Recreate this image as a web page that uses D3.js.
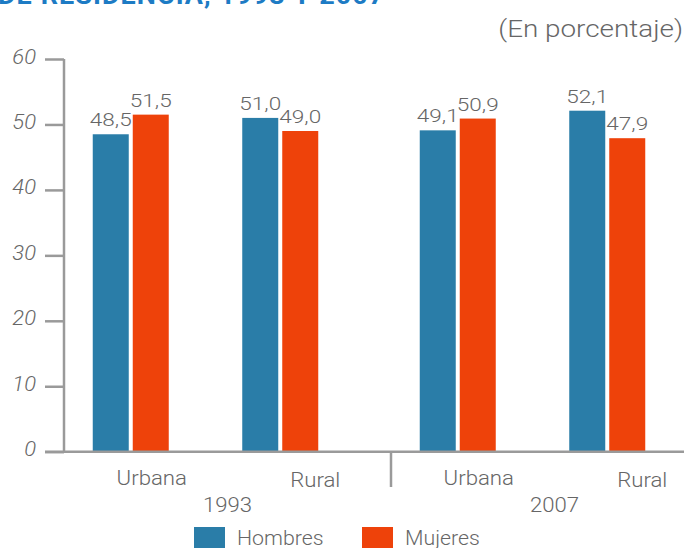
<!DOCTYPE html>
<html>
<head>
<meta charset="utf-8">
<script src="https://cdn.jsdelivr.net/npm/d3@7"></script>
<style>
  html, body { margin: 0; padding: 0; background: #fff; }
  svg { display: block; }
  text { font-family: Roboto, "Liberation Sans", sans-serif; font-weight: 300; fill: #666; }
</style>
</head>
<body>
<svg id="chart" width="684" height="548"></svg>
<script>
// data
var years = ["1993", "2007"];
var areas = ["Urbana", "Rural"];
var series = ["Hombres", "Mujeres"];
var hombres = [48.5, 51.0, 49.1, 52.1];
var mujeres = [51.5, 49.0, 50.9, 47.9];
var valueLabels = [["48,5", "51,5"], ["51,0", "49,0"], ["49,1", "50,9"], ["52,1", "47,9"]];
var yTicks = [0, 10, 20, 30, 40, 50, 60];

var COLORS = ["#2a7da8", "#ee420a"];
var AXIS = "#9a9a9a";

var svg = d3.select("#chart");

// text drawn a bit wider than the font, like the original artwork
function wideText(sel, x, y, sx) {
	return sel.attr("transform", "translate(" + x + "," + y + ") scale(" + sx + ",1)");
}

var rows = [];
years.forEach(function(yr, i) {
	areas.forEach(function(ar, j) {
		var k = i * areas.length + j;
		rows.push({ year: yr, area: ar, values: [hombres[k], mujeres[k]], labels: valueLabels[k] });
	});
});

// scales
var y = d3.scaleLinear().domain([0, 60]).range([451.7, 59]);
var x0 = d3.scaleBand().domain(years).range([64, 718]);
var xLabel = d3.scaleBand().domain(areas).range([6, 333]);
var xBarGroup = d3.scaleBand().domain(areas).range([-8, 291]);
var xBar = d3.scaleBand().domain(series).range([0, 76]).paddingInner(0.1);

// title (cut off at the top of the picture)
wideText(svg.append("text"), -2, 4, 1.08)
	.style("font-weight", "bold")
	.style("font-size", "25px")
	.style("fill", "#1d7bc4")
	.style("letter-spacing", "1px")
	.text("DE RESIDENCIA, 1993 Y 2007");

wideText(svg.append("text"), 683, 37, 1.16)
	.attr("text-anchor", "end")
	.style("font-size", "24px")
	.text("(En porcentaje)");

// y axis
var yAxis = d3.axisLeft(y).tickValues(yTicks).tickSize(19).tickPadding(9);
var gy = svg.append("g").attr("transform", "translate(64,0)").call(yAxis);
gy.select(".domain").attr("stroke", AXIS).attr("stroke-width", 2.5).attr("d", "M0," + y(60) + "V" + y(0));
gy.selectAll(".tick line").attr("stroke", AXIS).attr("stroke-width", 2.5);
gy.selectAll(".tick text")
	.attr("x", -28 / 1.1)
	.attr("transform", "scale(1.1,1)")
	.attr("dy", "0.2em")
	.attr("fill", "#666")
	.style("font-family", "Roboto, 'Liberation Sans', sans-serif")
	.style("font-size", "20px")
	.style("font-style", "italic")
	.style("font-weight", "300");

// bars
var groups = svg.selectAll("g.group")
	.data(rows)
	.enter().append("g")
	.attr("class", "group")
	.attr("transform", function(d) { return "translate(" + (x0(d.year) + xBarGroup(d.area) + xBarGroup.bandwidth() / 2 - 38) + ",0)"; });

groups.selectAll("rect")
	.data(function(d) { return d.values.map(function(v, i) { return { s: series[i], v: v, i: i }; }); })
	.enter().append("rect")
	.attr("x", function(d) { return xBar(d.s); })
	.attr("width", xBar.bandwidth())
	.attr("y", function(d) { return y(d.v); })
	.attr("height", function(d) { return y(0) - y(d.v); })
	.attr("fill", function(d) { return COLORS[d.i]; });

groups.selectAll("text.val")
	.data(function(d) { return d.values.map(function(v, i) { return { s: series[i], v: v, label: d.labels[i] }; }); })
	.enter().append("text")
	.attr("class", "val")
	.each(function(d) {
		wideText(d3.select(this), xBar(d.s) + xBar.bandwidth() / 2, y(d.v) - 8, 1.22);
	})
	.attr("text-anchor", "middle")
	.style("font-size", "18.5px")
	.text(function(d) { return d.label; });

// baseline
svg.append("path")
	.attr("d", "M45," + y(0) + "H684")
	.attr("stroke", AXIS)
	.attr("stroke-width", 2.5);

// separator between years
svg.append("path")
	.attr("d", "M" + x0("2007") + "," + y(0) + "V487")
	.attr("stroke", AXIS)
	.attr("stroke-width", 2.5);

// category labels
years.forEach(function(yr) {
	areas.forEach(function(ar) {
		wideText(svg.append("text"), x0(yr) + xLabel(ar) + xLabel.bandwidth() / 2, ar === "Rural" ? 487 : 485, 1.11)
			.attr("text-anchor", "middle")
			.style("font-size", "20px")
			.text(ar);
	});
	wideText(svg.append("text"), x0(yr) + x0.bandwidth() / 2, 512, 1.08)
		.attr("text-anchor", "middle")
		.style("font-size", "20.5px")
		.text(yr);
});

// legend
var legend = svg.append("g").attr("transform", "translate(194,527)");
var legX = d3.scalePoint().domain(series).range([0, 168]);
series.forEach(function(s, i) {
	legend.append("rect")
		.attr("x", legX(s))
		.attr("y", 0)
		.attr("width", 31)
		.attr("height", 24)
		.attr("fill", COLORS[i]);
	wideText(legend.append("text"), legX(s) + 43, 18, 1.04)
		.style("font-size", "20.5px")
		.text(s);
});
</script>
</body>
</html>
